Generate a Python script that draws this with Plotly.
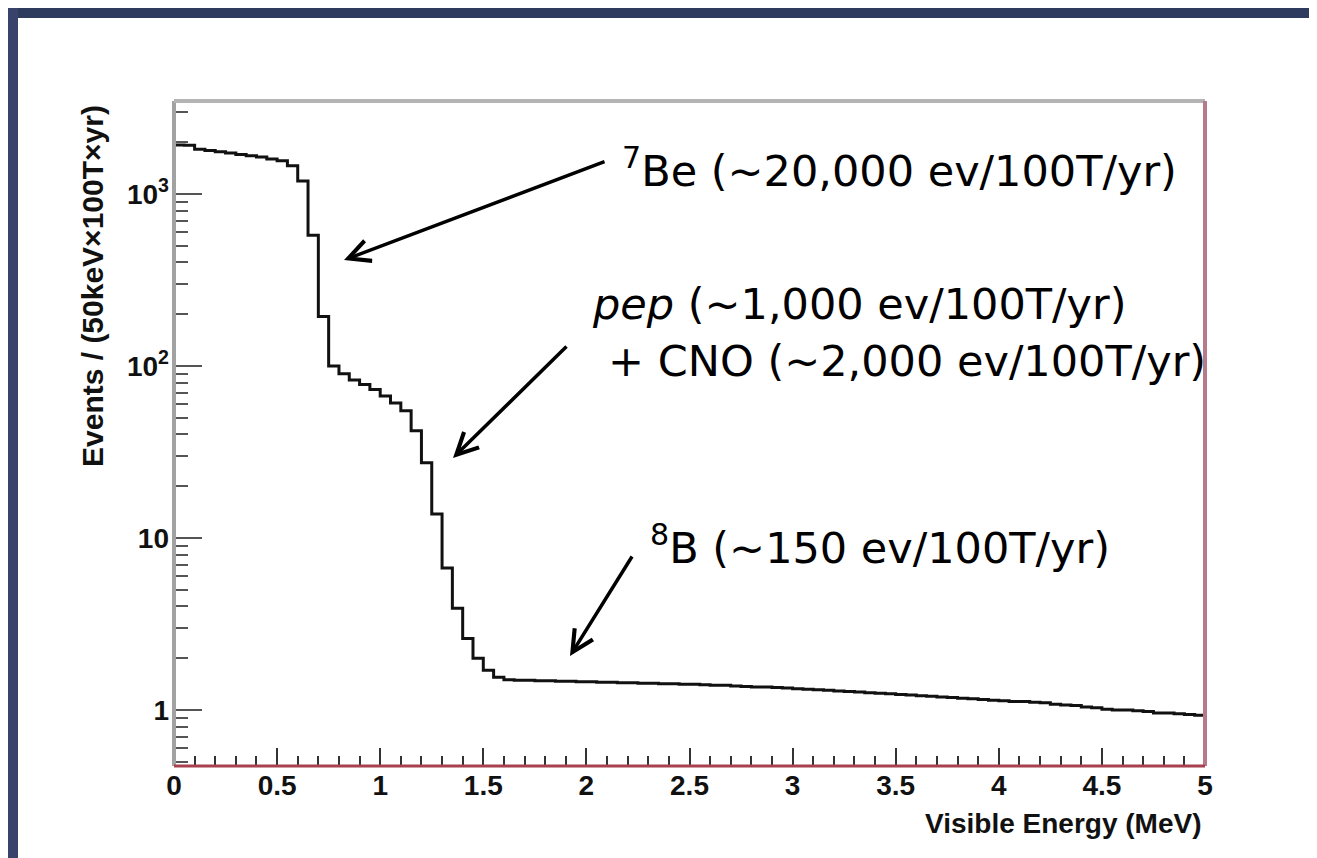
import plotly.graph_objects as go

# ---------------- data ----------------
E_MIN = 0.0          # MeV, lower edge of first bin
BIN_WIDTH = 0.05     # MeV (50 keV bins)

counts = [
    1930, 1920, 1820, 1790, 1760, 1730, 1700, 1670, 1640, 1600,   # 0.00-0.50
    1560, 1460, 1190, 575, 194, 100, 90, 83, 78, 73,              # 0.50-1.00
    67, 61, 55, 42, 27.4, 13.8, 6.7, 3.9, 2.6, 2.0,               # 1.00-1.50
    1.70, 1.55, 1.50, 1.49, 1.49, 1.48, 1.48, 1.47, 1.47, 1.46,   # 1.50-2.00
    1.46, 1.45, 1.45, 1.44, 1.44, 1.43, 1.43, 1.42, 1.42, 1.41,   # 2.00-2.50
    1.41, 1.40, 1.39, 1.39, 1.38, 1.37, 1.36, 1.36, 1.35, 1.34,   # 2.50-3.00
    1.33, 1.32, 1.31, 1.30, 1.29, 1.28, 1.27, 1.26, 1.25, 1.24,   # 3.00-3.50
    1.23, 1.22, 1.21, 1.20, 1.19, 1.18, 1.17, 1.16, 1.15, 1.14,   # 3.50-4.00
    1.13, 1.12, 1.12, 1.11, 1.10, 1.08, 1.07, 1.06, 1.04, 1.03,   # 4.00-4.50
    1.01, 1.00, 1.00, 0.99, 0.98, 0.96, 0.96, 0.95, 0.94, 0.93,   # 4.50-5.00
]

x_major = [0, 0.5, 1, 1.5, 2, 2.5, 3, 3.5, 4, 4.5, 5]
x_labels = ["0", "0.5", "1", "1.5", "2", "2.5", "3", "3.5", "4", "4.5", "5"]
y_major = [1, 10, 100, 1000]
y_labels = ["1", "10", "10<sup>2</sup>", "10<sup>3</sup>"]

x_title = "Visible Energy (MeV)"
y_title = "Events / (50keV×100T×yr)"

labels = [
    "<sup>7</sup>Be (~20,000 ev/100T/yr)",
    "<i>pep</i> (~1,000 ev/100T/yr)",
    "+ CNO (~2,000 ev/100T/yr)",
    "<sup>8</sup>B (~150 ev/100T/yr)",
]

# ---------------- derived ----------------
edges = [round(E_MIN + BIN_WIDTH * i, 4) for i in range(len(counts) + 1)]
y_step = counts + [counts[-1]]

x_minor = [round(0.1 * i, 2) for i in range(1, 50) if i % 5 != 0]
y_minor = [m * 10 ** k for k in range(-1, 4) for m in range(2, 10)]
y_minor = [v for v in y_minor if 0.45 < v < 3500]

W, H = 1317, 858
L, R, T, B = 166, 120, 93, 100
PW, PH = W - L - R, H - T - B


def px_x(px):
    return (px - L) / PW


def px_y(py):
    return (H - B - py) / PH


fig = go.Figure()
fig.add_trace(go.Scatter(
    x=edges, y=y_step, mode="lines",
    line=dict(shape="hv", color="#111111", width=3),
    hoverinfo="skip", showlegend=False,
))

tickfont = dict(family="Liberation Sans", size=28, color="#111111", weight="bold")

fig.update_layout(
    width=W, height=H,
    margin=dict(l=L, r=R, t=T, b=B),
    paper_bgcolor="white", plot_bgcolor="white",
    showlegend=False,
)
fig.update_xaxes(
    range=[0, 5], tickmode="array", tickvals=x_major, ticktext=x_labels,
    ticks="inside", ticklen=18, tickwidth=2, tickcolor="#333333",
    showgrid=False, zeroline=False, showline=False,
    tickfont=tickfont, ticklabelstandoff=0,
    minor=dict(tickmode="array", tickvals=x_minor, ticks="inside", ticklen=10,
               tickwidth=2, tickcolor="#333333", showgrid=False),
)
fig.update_yaxes(
    type="log", range=[-0.326, 3.541], tickmode="array",
    tickvals=y_major, ticktext=y_labels,
    ticks="inside", ticklen=28, tickwidth=2, tickcolor="#555555",
    showgrid=False, zeroline=False, showline=False,
    tickfont=tickfont, ticklabelstandoff=4,
    minor=dict(tickmode="array", tickvals=y_minor, ticks="inside", ticklen=14,
               tickwidth=2, tickcolor="#555555", showgrid=False),
)

shapes = [
    # slide background strips (dark navy)
    dict(type="rect", xref="paper", yref="paper", x0=px_x(0), x1=px_x(W),
         y0=px_y(0), y1=px_y(10), fillcolor="#2f3b5e", line=dict(width=0), layer="below"),
    dict(type="rect", xref="paper", yref="paper", x0=px_x(0), x1=px_x(10),
         y0=px_y(0), y1=px_y(H), fillcolor="#37436a", line=dict(width=0), layer="below"),
    # frame
    dict(type="line", xref="paper", yref="paper", x0=0, x1=0, y0=0, y1=1,
         line=dict(color="#a2a2a2", width=4)),
    dict(type="line", xref="paper", yref="paper", x0=0, x1=1, y0=1, y1=1,
         line=dict(color="#b4b4b4", width=4)),
    dict(type="line", xref="paper", yref="paper", x0=1, x1=1, y0=0, y1=1,
         line=dict(color="#b87a8a", width=4)),
    dict(type="line", xref="paper", yref="paper", x0=0, x1=1, y0=0, y1=0,
         line=dict(color="#a8404f", width=3)),
]
fig.update_layout(shapes=shapes)

ann_font = dict(family="DejaVu Sans", size=43, color="#000000")
annotations = [
    dict(text=labels[0], x=px_x(612), y=px_y(160), xanchor="left", yanchor="middle"),
    dict(text=labels[1], x=px_x(582), y=px_y(296), xanchor="left", yanchor="middle"),
    dict(text=labels[2], x=px_x(598), y=px_y(353), xanchor="left", yanchor="middle"),
    dict(text=labels[3], x=px_x(640), y=px_y(537), xanchor="left", yanchor="middle"),
]
annotations = [dict(a, xref="paper", yref="paper", showarrow=False, font=ann_font)
               for a in annotations]

arrows = [
    (336, 252, 262, -99),
    (445, 450, 115, -113),
    (562, 648, 63, -101),
]
for tx, ty, dx, dy in arrows:
    annotations.append(dict(
        text="", x=px_x(tx), y=px_y(ty), xref="paper", yref="paper",
        showarrow=True, ax=dx, ay=dy, axref="pixel", ayref="pixel",
        arrowhead=5, arrowsize=1.2, arrowwidth=3.5, arrowcolor="#000000",
    ))

# axis titles (ROOT style: aligned to the end of the axis)
annotations.append(dict(
    text="<b>" + x_title + "</b>", x=px_x(1195), y=px_y(815),
    xref="paper", yref="paper", xanchor="right", yanchor="middle",
    showarrow=False, font=dict(family="Liberation Sans", size=28, color="#111111"),
))
annotations.append(dict(
    text="<b>" + y_title + "</b>", x=px_x(84), y=px_y(95),
    xref="paper", yref="paper", xanchor="center", yanchor="top", textangle=-90,
    showarrow=False, font=dict(family="Liberation Sans", size=30, color="#111111"),
))
fig.update_layout(annotations=annotations)

fig.write_html("out.html")
